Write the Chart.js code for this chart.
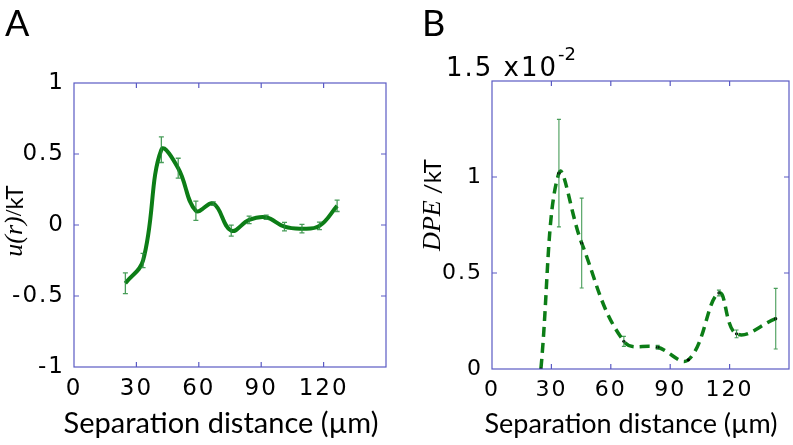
<!DOCTYPE html>
<html>
<head>
<meta charset="utf-8">
<script src="https://cdn.jsdelivr.net/npm/chart.js@4/dist/chart.umd.min.js"></script>
<style>
    body { margin: 0; background: #fff; }
    #wrap { position: relative; width: 793px; height: 445px; }
    #chartA { position: absolute; left: 0; top: 0; }
    #chartB { position: absolute; left: 400px; top: 0; }
</style>
</head>
<body>
<div id="wrap">
    <canvas id="chartA" width="400" height="445"></canvas>
    <canvas id="chartB" width="393" height="445"></canvas>
</div>
<script>
// panel A: pair potential u(r)/kT vs separation distance
const sepA = [24.7, 33.2, 42.0, 50.1, 58.6, 67.0, 75.6, 84.2, 92.4, 101.2, 109.6, 118.0, 126.5];
const uA = [-0.41, -0.25, 0.53, 0.40, 0.10, 0.151, -0.04, 0.036, 0.054, -0.012, -0.026, -0.006, 0.135];
const errA = [0.073, 0.05, 0.09, 0.07, 0.068, 0.012, 0.039, 0.026, 0.015, 0.03, 0.03, 0.026, 0.04];

// panel B: DPE/kT vs separation distance
const sepB = [24.7, 33.8, 45.3, 66.6, 83.7, 99.2, 114.6, 123.5, 143.3];
const dpeB = [0.0, 0.0102, 0.00656, 0.00144, 0.00113, 0.00048, 0.00396, 0.00183, 0.00262];
const errB = [0, 0.0028, 0.00234, 0.00026, 0.0001, 0, 0.00015, 0.0002, 0.00158];

const xTicksA = [0, 30, 60, 90, 120];
const yTicksA = [-1, -0.5, 0, 0.5, 1];
const xTicksB = [0, 30, 60, 90, 120];
const yTicksB = [0, 0.005, 0.01, 0.015];

const GREEN = "rgb(12,125,22)";
const BAR = "rgba(40,140,60,0.85)";
const FRAME = "#5a5ac4";
const TICK_FONT = "DejaVu Sans";
const TITLE_FONT = "Lato";

function toPoints(xs, ys) {
    return xs.map((x, i) => ({ x: x, y: ys[i] }));
}

const framePlugin = {
    id: "frame",
    beforeDraw(chart) {
        chart.ctx.letterSpacing = "2px";
    },
    afterDatasetsDraw(chart, args, opts) {
        const { ctx, chartArea: a, scales } = chart;
        const ds = chart.data.datasets[0];
        const meta = chart.getDatasetMeta(0);
        ctx.save();
        ctx.beginPath();
        ctx.rect(a.left, a.top, a.right - a.left, a.bottom - a.top);
        ctx.clip();
        ctx.strokeStyle = BAR;
        ctx.lineWidth = opts.barWidth;
        ctx.beginPath();
        ds.data.forEach((p, i) => {
            const e = ds.errors[i];
            if (!e) return;
            const px = meta.data[i].x;
            const top = scales.y.getPixelForValue(p.y + e);
            const bot = scales.y.getPixelForValue(p.y - e);
            ctx.moveTo(px, top);
            ctx.lineTo(px, bot);
            ctx.moveTo(px - opts.cap, top);
            ctx.lineTo(px + opts.cap, top);
            ctx.moveTo(px - opts.cap, bot);
            ctx.lineTo(px + opts.cap, bot);
        });
        ctx.stroke();
        ctx.restore();
    },
    afterDraw(chart, args, opts) {
        const { ctx, chartArea: a, scales } = chart;
        ctx.save();
        ctx.letterSpacing = "0px";
        ctx.strokeStyle = FRAME;
        ctx.lineWidth = 1.2;
        ctx.strokeRect(a.left, a.top, a.right - a.left, a.bottom - a.top);
        ctx.beginPath();
        scales.x.ticks.forEach((t) => {
            const px = scales.x.getPixelForValue(t.value);
            if (px <= a.left + 1 || px >= a.right - 1) return;
            ctx.moveTo(px, a.bottom);
            ctx.lineTo(px, a.bottom - 5);
            ctx.moveTo(px, a.top);
            ctx.lineTo(px, a.top + 5);
        });
        scales.y.ticks.forEach((t) => {
            const py = scales.y.getPixelForValue(t.value);
            if (py <= a.top + 1 || py >= a.bottom - 1) return;
            ctx.moveTo(a.left, py);
            ctx.lineTo(a.left + 5, py);
            ctx.moveTo(a.right, py);
            ctx.lineTo(a.right - 5, py);
        });
        ctx.stroke();

        ctx.fillStyle = "#000";
        ctx.textBaseline = "alphabetic";
        ctx.textAlign = "left";
        // panel letter
        ctx.font = "36px " + TITLE_FONT;
        ctx.fillText(opts.letter.text, opts.letter.x, opts.letter.y);

        // x title
        ctx.textAlign = "center";
        ctx.textBaseline = "middle";
        ctx.font = opts.xTitle.font;
        ctx.fillText(opts.xTitle.text, opts.xTitle.x, opts.xTitle.y);

        // y title built from mixed fonts
        ctx.translate(opts.yTitle.x, opts.yTitle.y);
        ctx.rotate(-Math.PI / 2);
        ctx.textAlign = "left";
        let total = 0;
        opts.yTitle.parts.forEach((p) => {
            ctx.font = p.font;
            total += ctx.measureText(p.text).width;
        });
        let cx = -total / 2;
        opts.yTitle.parts.forEach((p) => {
            ctx.font = p.font;
            ctx.fillText(p.text, cx, 0);
            cx += ctx.measureText(p.text).width;
        });
        ctx.restore();

        if (opts.exponent) {
            ctx.save();
            ctx.fillStyle = "#000";
            ctx.textBaseline = "alphabetic";
            ctx.letterSpacing = "2px";
            ctx.font = "26px " + TICK_FONT;
            ctx.fillText(opts.exponent.base, opts.exponent.x, opts.exponent.y);
            const w = ctx.measureText(opts.exponent.base).width;
            ctx.font = "18px " + TICK_FONT;
            ctx.letterSpacing = "0px";
            ctx.fillText(opts.exponent.sup, opts.exponent.x + w, opts.exponent.y - 16);
            ctx.restore();
        }
    },
};

function axisX(ticks, fontSize, height) {
    return {
        type: "linear",
        min: 0,
        max: 150,
        afterBuildTicks: (s) => { s.ticks = ticks.map((v) => ({ value: v })); },
        afterFit: (s) => { s.height = height; },
        grid: { display: false, drawTicks: false },
        border: { display: false },
        ticks: {
            padding: 8,
            color: "#000",
            font: { family: TICK_FONT, size: fontSize },
            maxRotation: 0,
            autoSkip: false,
        },
    };
}

function axisY(min, max, ticks, width, fontSize, fmt) {
    return {
        type: "linear",
        min: min,
        max: max,
        afterBuildTicks: (s) => { s.ticks = ticks.map((v) => ({ value: v })); },
        afterFit: (s) => { s.width = width; },
        grid: { display: false, drawTicks: false },
        border: { display: false },
        ticks: {
            padding: 9,
            color: "#000",
            font: { family: TICK_FONT, size: fontSize },
            autoSkip: false,
            callback: fmt,
        },
    };
}

new Chart(document.getElementById("chartA"), {
    type: "line",
    data: {
        datasets: [
            {
                data: toPoints(sepA, uA),
                errors: errA,
                borderColor: GREEN,
                borderWidth: 4,
                pointRadius: 0,
                tension: 0.4,
                fill: false,
            },
        ],
    },
    options: {
        responsive: false,
        animation: false,
        layout: { padding: { top: 83, right: 14, left: 0, bottom: 0 } },
        scales: {
            x: axisX(xTicksA, 23, 78),
            y: axisY(-1, 1, yTicksA, 74, 23, (v) => String(v)),
        },
        plugins: {
            legend: { display: false },
            tooltip: { enabled: false },
            frame: {
                barWidth: 1.3,
                cap: 2.5,
                letter: { text: "A", x: 5, y: 36 },
                xTitle: { text: "Separation distance (µm)", font: "29px " + TITLE_FONT, x: 221, y: 424 },
                yTitle: {
                    x: 15,
                    y: 221,
                    parts: [
                        { text: "u(r)", font: "italic 26px 'Liberation Serif'" },
                        { text: "/", font: "24px 'Liberation Serif'" },
                        { text: "kT", font: "24px " + TITLE_FONT },
                    ],
                },
            },
        },
    },
    plugins: [framePlugin],
});

new Chart(document.getElementById("chartB"), {
    type: "line",
    data: {
        datasets: [
            {
                data: toPoints(sepB, dpeB),
                errors: errB,
                borderColor: GREEN,
                borderWidth: 3.5,
                borderDash: [10, 6],
                pointRadius: 1.6,
                pointBackgroundColor: "#000",
                pointBorderWidth: 0,
                tension: 0.4,
                fill: false,
            },
        ],
    },
    options: {
        responsive: false,
        animation: false,
        layout: { padding: { top: 81, right: 2, left: 0, bottom: 0 } },
        scales: {
            x: axisX(xTicksB, 22, 76),
            y: axisY(0, 0.015, yTicksB, 92, 22, (v) => {
                const s = Math.round(v * 1000) / 10;
                return s > 1.2 ? "" : String(s);
            }),
        },
        plugins: {
            legend: { display: false },
            tooltip: { enabled: false },
            frame: {
                barWidth: 1.1,
                cap: 2,
                letter: { text: "B", x: 22, y: 36 },
                xTitle: { text: "Separation distance (µm)", font: "27px " + TITLE_FONT, x: 231, y: 424 },
                yTitle: {
                    x: 33,
                    y: 205,
                    parts: [
                        { text: "DPE", font: "italic 26px 'Liberation Serif'" },
                        { text: " /", font: "24px " + TITLE_FONT },
                        { text: "kT", font: "24px " + TITLE_FONT },
                    ],
                },
                exponent: { base: "1.5 x10", sup: "-2", x: 46, y: 76 },
            },
        },
    },
    plugins: [framePlugin],
});
</script>
</body>
</html>
